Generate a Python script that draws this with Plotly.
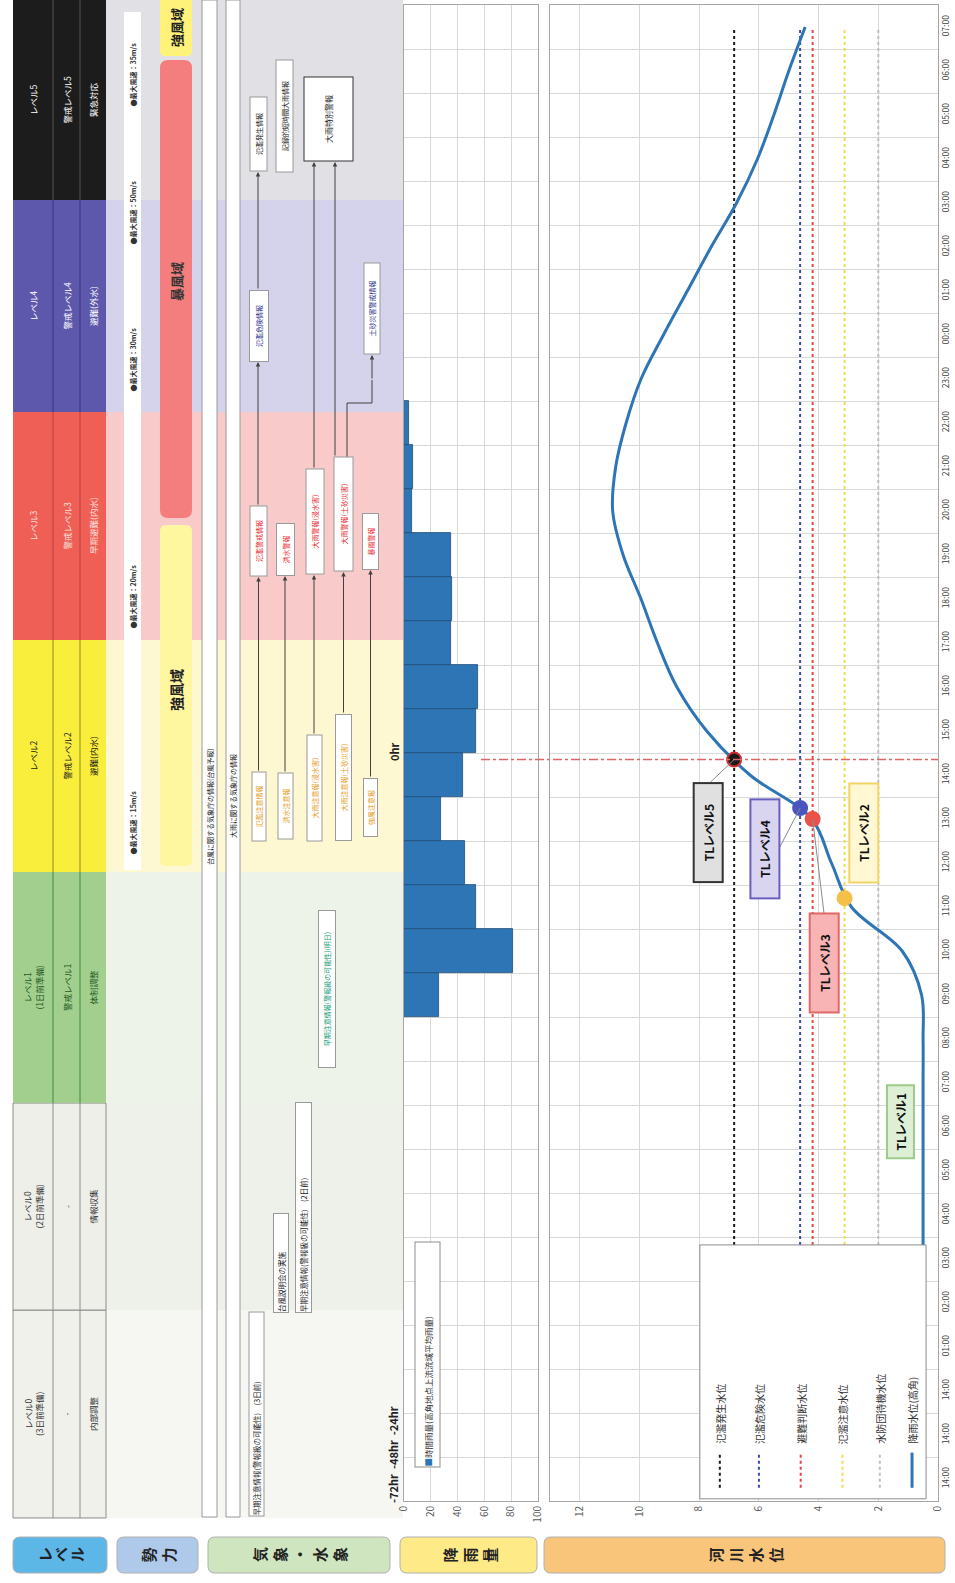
import plotly.graph_objects as go

W, H = 955, 1583
FONT = "Noto Sans CJK JP, Noto Sans, sans-serif"

# ---------------- data ----------------
TIME_LABELS = ["14:00", "14:00", "14:00",
               "01:00", "02:00", "03:00", "04:00", "05:00", "06:00", "07:00", "08:00",
               "09:00", "10:00", "11:00", "12:00", "13:00", "14:00", "15:00", "16:00",
               "17:00", "18:00", "19:00", "20:00", "21:00", "22:00", "23:00", "00:00",
               "01:00", "02:00", "03:00", "04:00", "05:00", "06:00", "07:00"]
HOURS = list(range(len(TIME_LABELS)))

RAIN_HOURS = [11, 12, 13, 14, 15, 16, 17, 18, 19, 20, 21, 22, 23, 24]
RAIN_MM = [26, 81, 54, 45.5, 27.6, 44, 54, 55.5, 35, 36, 35, 6, 7, 4]

WATER_LEVEL = [0.5, 0.5, 0.5, 0.5, 0.5, 0.5, 0.5, 0.5, 0.5, 0.5, 0.5,
               0.55, 1.2, 2.9, 3.57, 4.23, 6.3, 7.75, 8.75, 9.4, 9.95, 10.55,
               10.9, 10.8, 10.45, 9.95, 9.2, 8.4, 7.6, 6.75, 6.05, 5.5, 5.0, 4.45]

THRESH_NAMES = ["氾濫発生水位", "氾濫危険水位", "避難判断水位", "氾濫注意水位", "水防団待機水位"]
THRESH_VALUES = [6.83, 4.62, 4.2, 3.13, 2.0]
THRESH_COLORS = ["#1a1a1a", "#3A4BA8", "#E04848", "#F2DC50", "#BFBFBF"]

TL_NAMES = ["TLレベル2", "TLレベル3", "TLレベル4", "TLレベル5"]
TL_CROSS_HOURS = [13.2, 15.0, 15.25, 16.35]
TL_VALUES = [3.13, 4.2, 4.62, 6.83]
TL_COLORS = ["#F5C04A", "#E8524A", "#4A55C0", "#1a1a1a"]
ZERO_HOUR = 16.35

LEVEL_EDGES = [-0.886, 3.84, 8.545, 13.795, 19.07, 24.25, 29.07, 33.614]
LEVEL_NAMES = ["レベル0<br>(3日前準備)", "レベル0<br>(2日前準備)", "レベル1<br>(1日前準備)",
               "レベル2", "レベル3", "レベル4", "レベル5"]
LEVEL_ALERTS = ["-", "-", "警戒レベル1", "警戒レベル2", "警戒レベル3", "警戒レベル4", "警戒レベル5"]
LEVEL_ACTIONS = ["内部調整", "情報収集", "体制調整", "避難(内水)", "早期避難(内水)", "避難(外水)", "緊急対応"]

WIND_TEXTS = ["●最大風速：15m/s", "●最大風速：20m/s", "●最大風速：30m/s", "●最大風速：50m/s", "●最大風速：35m/s"]

ADVISORIES = ["氾濫注意情報", "洪水注意報", "大雨注意報(浸水害)", "大雨注意報(土砂災害)", "強風注意報"]
WARNINGS = ["氾濫警戒情報", "洪水警報", "大雨警報(浸水害)", "大雨警報(土砂災害)", "暴風警報"]

# ---------------- layout helpers ----------------
def Y(p):
    """pixel row -> position on the time axis"""
    return (1479 - p) / 44.0


def rrect(x0, x1, p0, p1, r):
    ya, yb = Y(p0), Y(p1)
    ry = r / 44.0
    return (f"M{x0 + r},{ya} L{x1 - r},{ya} Q{x1},{ya} {x1},{ya - ry} L{x1},{yb + ry} "
            f"Q{x1},{yb} {x1 - r},{yb} L{x0 + r},{yb} Q{x0},{yb} {x0},{yb + ry} "
            f"L{x0},{ya - ry} Q{x0},{ya} {x0 + r},{ya} Z")


shapes = []
ann = []


def rect(x0, x1, y0, y1, fill, line=None, lw=1, layer="below", xref="x", yref="y"):
    shapes.append(dict(type="rect", xref=xref, yref=yref, x0=x0, x1=x1, y0=y0, y1=y1,
                       fillcolor=fill, line=dict(color=line or "rgba(0,0,0,0)", width=lw if line else 0),
                       layer=layer))


def seg(x0, y0, x1, y1, color, w=1, dash="solid", layer="below", xref="x", yref="y"):
    shapes.append(dict(type="line", xref=xref, yref=yref, x0=x0, y0=y0, x1=x1, y1=y1,
                       line=dict(color=color, width=w, dash=dash), layer=layer))


def text(x, y, s, size=8, color="#222", angle=-90, xref="x", yref="y", **kw):
    d = dict(x=x, y=y, xref=xref, yref=yref, text=s, showarrow=False, textangle=angle,
             font=dict(size=size, color=color, family=FONT))
    d.update(kw)
    ann.append(d)


def box(x0, x1, p0, p1, s, color="#222", size=7.5, align="center", bg="white", border="#9a9a9a", bw=1):
    ann.append(dict(x=(x0 + x1) / 2, y=Y((p0 + p1) / 2), xref="x", yref="y", text=s,
                    showarrow=False, textangle=-90, width=max(p1 - p0 - 2 * bw, 4),
                    height=max(x1 - x0 - 2 * bw, 4), align=align, bgcolor=bg, bordercolor=border,
                    borderwidth=bw, borderpad=0, font=dict(size=size, color=color, family=FONT)))


def arrow(x, p_tail, p_head, color="#404040"):
    ann.append(dict(x=x, y=Y(p_head), ax=x, ay=Y(p_tail), xref="x", yref="y", axref="x", ayref="y",
                    text="", showarrow=True, arrowhead=2, arrowsize=0.9, arrowwidth=1,
                    arrowcolor=color, standoff=0))


# ---------------- level table and band tints ----------------
LEVEL_COLORS = ["#F1F1EC", "#EFEFEA", "#A3CF8E", "#FAEE3C", "#EF5F56", "#5E58AC", "#1C1C1C"]
LEVEL_TXT = ["#333333", "#333333", "#1F5A1F", "#1a1a1a", "#FCE0DC", "#FFFFFF", "#FFFFFF"]
LEVEL_SEP = ["#8C8C8C", "#8C8C8C", "#3C8A3C", "#8A8A20", "#B94040", "#3A3580", "#555555"]
TINTS = ["#F6F7F3", "#EEF0EA", "#EDF3E8", "#FDF7D2", "#F9CACA", "#D5D2EB", "#E1E1E5"]

for i in range(7):
    y0, y1 = LEVEL_EDGES[i], LEVEL_EDGES[i + 1]
    rect(106, 403, y0, y1, TINTS[i])
    rect(13, 106, y0, y1, LEVEL_COLORS[i], line="#8C8C8C" if i < 2 else None)
    seg(53, y0, 53, y1, LEVEL_SEP[i])
    seg(80, y0, 80, y1, LEVEL_SEP[i])
    yc = (y0 + y1) / 2
    text(33, yc, LEVEL_NAMES[i], size=8.5, color=LEVEL_TXT[i])
    text(66.5, yc, LEVEL_ALERTS[i], size=8.5, color=LEVEL_TXT[i])
    text(93, yc, LEVEL_ACTIONS[i], size=8.5, color=LEVEL_TXT[i])

# ---------------- 勢力 column ----------------
rect(124, 141, Y(870), Y(12), "white")
for s, p in zip(WIND_TEXTS, [823, 597, 360, 213, 75]):
    text(132.5, Y(p), "<b>" + s + "</b>", size=7, color="#333")

shapes.append(dict(type="path", xref="x", yref="y", path=rrect(160, 192, 525, 866, 6),
                   fillcolor="#FFF6A0", line=dict(width=0), layer="below"))
shapes.append(dict(type="path", xref="x", yref="y", path=rrect(160, 192, 60, 518, 8),
                   fillcolor="#F47E7E", line=dict(width=0), layer="below"))
shapes.append(dict(type="path", xref="x", yref="y", path=rrect(160, 192, -10, 56, 5),
                   fillcolor="#FFF27A", line=dict(width=0), layer="below"))
text(176, Y(690), "<b>強風域</b>", size=14, color="#222")
text(176, Y(282), "<b>暴風域</b>", size=13, color="#333")
text(176, Y(28), "<b>強風域</b>", size=13, color="#222")

# ---------------- 気象・水象 column ----------------
rect(202, 217, Y(1517), Y(0), "white", line="#9a9a9a")
rect(226, 240, Y(1517), Y(0), "white", line="#9a9a9a")
text(209.5, Y(867), "台風に関する気象庁の情報(台風予報)", size=7, color="#222", yanchor="bottom")
text(233, Y(840), "大雨に関する気象庁の情報", size=7, color="#222", yanchor="bottom")

box(248, 264, 1312, 1517, "早期注意情報(警報級の可能性)　(3日前)", align="left")
box(273, 289, 1213, 1313, "台風説明会の実施", align="left")
box(295, 312, 1102, 1313, "早期注意情報(警報級の可能性)　(2日前)", align="left")
box(318, 336, 910, 1068, "早期注意情報(警報級の可能性)(明日)", color="#16A07A", size=7)

ADV_X = [(251, 266), (277, 293), (306, 322), (335, 352), (363, 378)]
ADV_P = [(772, 842), (773, 840), (735, 842), (714, 841), (778, 837)]
WRN_X = [(249, 267), (276, 295), (305, 324), (333, 353), (362, 379)]
WRN_P = [(506, 577), (523, 576), (469, 575), (457, 572), (513, 570)]
for k in range(5):
    box(ADV_X[k][0], ADV_X[k][1], ADV_P[k][0], ADV_P[k][1], ADVISORIES[k], color="#E59A1A", size=7)
    box(WRN_X[k][0], WRN_X[k][1], WRN_P[k][0], WRN_P[k][1], WARNINGS[k], color="#E8262B", size=7)
    xc = (ADV_X[k][0] + ADV_X[k][1]) / 2
    arrow(xc, ADV_P[k][0], WRN_P[k][1])

# level 4 / level 5 information
box(249, 269, 290, 362, "氾濫危険情報", color="#2F2F8F", size=7)
box(363, 380, 263, 355, "土砂災害警戒情報", color="#2F2F8F", size=7)
box(249, 267, 97, 172, "氾濫発生情報", color="#222", size=7)
box(275, 293, 60, 173, "記録的短時間大雨情報", color="#222", size=7)
box(303, 353, 77, 162, "大雨特別警報", color="#222", size=8, border="#333")
arrow(258, 506, 362)
arrow(258, 290, 172)
arrow(314, 469, 162)
arrow(335, 457, 162)
shapes.append(dict(type="path", xref="x", yref="y",
                   path=f"M347,{Y(457)} L347,{Y(403)} L372,{Y(403)} L372,{Y(380)}",
                   line=dict(color="#404040", width=1), layer="below"))
arrow(372, 380, 355)

# ---------------- rainfall panel texts ----------------
text(394, Y(752), "<b>0hr</b>", size=11, color="#222")
text(393, Y(1455), "<b>-72hr  -48hr  -24hr</b>", size=11, color="#222")
ann.append(dict(x=427.5, y=Y(1355), xref="x", yref="y", showarrow=False, textangle=-90,
                text="<span style='color:#2E75B6'>■</span>時間雨量(高角地点上流流域平均雨量)",
                width=224, height=24, align="left", bgcolor="white", bordercolor="#8C8C8C",
                borderwidth=1, borderpad=0, font=dict(size=8.5, color="#333", family=FONT)))

# zero-hour line
seg(481, ZERO_HOUR, 938, ZERO_HOUR, "#E06666", w=1.5, dash="dashdot", layer="above")

# ---------------- river: TL callouts ----------------
TL_BOX_X = [2.5, 3.8, 5.8, 7.71]
TL_BOX_Y = [14.68, 11.73, 14.33, 14.7]
TL_FILL = ["#FFF8D2", "#F8B4B4", "#D9D5F0", "#E0E0E0"]
TL_EDGE = ["#F2D468", "#E06868", "#6A5FC0", "#333333"]
for k in range(4):
    ann.append(dict(x=TL_BOX_X[k], y=TL_BOX_Y[k], xref="x3", yref="y3", text="<b>" + TL_NAMES[k] + "</b>",
                    showarrow=False, textangle=-90, width=95, height=25, bgcolor=TL_FILL[k],
                    bordercolor=TL_EDGE[k], borderwidth=2, borderpad=1,
                    font=dict(size=12, color="#111", family=FONT)))
ann.append(dict(x=1.27, y=8.11, xref="x3", yref="y3", text="<b>TLレベル1</b>", showarrow=False,
                textangle=-90, width=71, height=25, bgcolor="#DDEFD5", bordercolor="#9CCB8A",
                borderwidth=2, borderpad=0, font=dict(size=12, color="#111", family=FONT)))
# leader lines
seg(7.62, 15.84, TL_VALUES[3], TL_CROSS_HOURS[3], "#8a8a8a", w=1, layer="above", xref="x3", yref="y3")
seg(5.30, 14.36, TL_VALUES[2], TL_CROSS_HOURS[2], "#8a8a8a", w=1, layer="above", xref="x3", yref="y3")
seg(3.82, 12.86, TL_VALUES[1], TL_CROSS_HOURS[1], "#8a8a8a", w=1, layer="above", xref="x3", yref="y3")

# ---------------- river legend ----------------
rect(7.98, 0.4, -0.45, 5.32, "white", line="#8C8C8C", layer="above", xref="x3", yref="y3")
LEG_X = [7.31, 6.0, 4.6, 3.2, 1.95, 0.87]
for k in range(6):
    if k < 5:
        seg(LEG_X[k], -0.2, LEG_X[k], 0.6, THRESH_COLORS[k], w=2, dash="dot", layer="above",
            xref="x3", yref="y3")
        lab = THRESH_NAMES[k]
    else:
        seg(LEG_X[k], -0.2, LEG_X[k], 0.6, "#2E75B6", w=3, layer="above", xref="x3", yref="y3")
        lab = "降雨水位(高角)"
    text(LEG_X[k], 0.75, lab, size=10, color="#333", xref="x3", yref="y3", yanchor="bottom")

# ---------------- bottom category buttons ----------------
BUTTONS = [("レベル", 13, 107, "#5CB6E6", 16), ("勢力", 117, 198, "#AFC9EA", 20),
           ("気象・水象", 208, 390, "#CFE5BF", 20), ("降雨量", 400, 537, "#FFEA88", 20),
           ("河川水位", 544, 945, "#F9C57A", 20)]
for label, x0, x1, col, step in BUTTONS:
    shapes.append(dict(type="path", xref="x", yref="y", path=rrect(x0, x1, 1537, 1573, 7),
                       fillcolor=col, line=dict(color="#B0B0B0", width=1), layer="below"))
    n = len(label)
    xc = (x0 + x1) / 2
    for i, ch in enumerate(label):
        text(xc + (i - (n - 1) / 2) * step, Y(1555), "<b>" + ch + "</b>", size=15, color="#222")

# ---------------- traces ----------------
fig = go.Figure()
fig.add_trace(go.Bar(x=RAIN_MM, y=RAIN_HOURS, orientation="h", xaxis="x2", yaxis="y2", width=1.0,
                     marker=dict(color="#2E75B6", line=dict(color="#1F4E79", width=0.8)),
                     showlegend=False, hoverinfo="skip"))
for name, val, col in zip(THRESH_NAMES, THRESH_VALUES, THRESH_COLORS):
    fig.add_trace(go.Scatter(x=[val for _ in HOURS], y=HOURS, mode="lines", xaxis="x3", yaxis="y3",
                             line=dict(color=col, width=2, dash="dot"), name=name, showlegend=False))
fig.add_trace(go.Scatter(x=WATER_LEVEL, y=HOURS, mode="lines", xaxis="x3", yaxis="y3",
                         line=dict(color="#2E75B6", width=3, shape="spline", smoothing=1.0),
                         name="降雨水位(高角)", showlegend=False))
fig.add_trace(go.Scatter(x=TL_VALUES, y=TL_CROSS_HOURS, mode="markers", xaxis="x3", yaxis="y3",
                         marker=dict(size=14, color=TL_COLORS,
                                     line=dict(color=["#F5C04A", "#E8524A", "#4A55C0", "#D03030"], width=2)),
                         showlegend=False))
# invisible anchor for the decoration axes
fig.add_trace(go.Scatter(x=[0], y=[0], mode="markers", marker=dict(opacity=0), xaxis="x", yaxis="y",
                         showlegend=False, hoverinfo="skip"))

GRID = "#D9D9D9"
AXLINE = "#A6A6A6"
TICKFONT = dict(size=10, color="#595959", family=FONT)
ydom = [1 - 1501 / H, 1 - 5 / H]
HALF = [h - 0.5 for h in HOURS] + [HOURS[-1] + 0.5]

fig.update_layout(
    width=W, height=H, margin=dict(l=0, r=0, t=0, b=0, pad=0, autoexpand=False),
    paper_bgcolor="white", plot_bgcolor="rgba(0,0,0,0)", showlegend=False, bargap=0,
    font=dict(family=FONT),
    xaxis=dict(domain=[0, 1], range=[0, W], visible=False, fixedrange=True, automargin=False),
    yaxis=dict(domain=[0, 1], range=[Y(H), Y(0)], visible=False, fixedrange=True, automargin=False),
    xaxis2=dict(domain=[404 / W, 538 / W], anchor="y2", range=[0, 100], tickmode="array",
                tickvals=[0, 20, 40, 60, 80, 100], tickangle=-90, tickfont=TICKFONT,
                showgrid=True, gridcolor=GRID, zeroline=False, showline=True, mirror=True,
                linecolor=AXLINE, ticks="", automargin=False),
    yaxis2=dict(domain=ydom, anchor="x2", range=[-0.5, 33.5], tickmode="array", tickvals=HALF,
                showticklabels=False, showgrid=True, gridcolor=GRID, zeroline=False,
                showline=True, mirror=True, linecolor=AXLINE, ticks="", automargin=False),
    xaxis3=dict(domain=[550 / W, 938 / W], anchor="y3", range=[13, 0], tickmode="array",
                tickvals=[0, 2, 4, 6, 8, 10, 12], tickangle=-90, tickfont=TICKFONT,
                showgrid=True, gridcolor=GRID, zeroline=False, showline=True, mirror=True,
                linecolor=AXLINE, ticks="", automargin=False),
    yaxis3=dict(domain=ydom, anchor="x3", side="right", range=[-0.5, 33.5], tickmode="array",
                tickvals=HOURS, ticktext=TIME_LABELS, tickangle=-90,
                tickfont=dict(size=8.5, color="#404040", family=FONT), showgrid=False,
                minor=dict(tickmode="array", tickvals=HALF, showgrid=True, gridcolor=GRID, ticks=""),
                zeroline=False, showline=True, mirror=True, linecolor=AXLINE, ticks="", automargin=False),
    shapes=shapes, annotations=ann,
)

fig.write_html("out.html", config={"displayModeBar": False},
               post_script="document.body.style.margin='0px';document.body.style.overflow='hidden';")
